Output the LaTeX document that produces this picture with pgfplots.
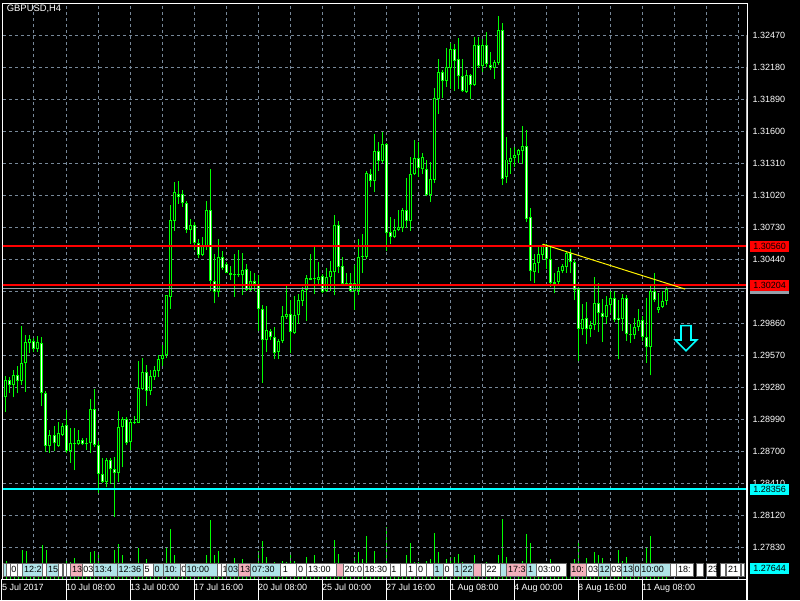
\documentclass[border=0pt]{standalone}
\usepackage{fontspec}
\setmainfont{Liberation Sans}
\usepackage{pgfplots}
\usepackage{pgfplotstable}
\pgfplotsset{compat=1.18}
\definecolor{cgreen}{RGB}{0,255,0}
\definecolor{gridc}{RGB}{119,136,153}
\definecolor{aqua}{RGB}{0,255,255}
\definecolor{lblue}{RGB}{176,228,232}
\definecolor{lpink}{RGB}{244,176,188}
\definecolor{bidgray}{RGB}{150,160,170}
\newcommand\lbl{\fontsize{9}{10}\selectfont}

\pgfplotstableread{
k o h l c v
0 1.29164 1.29200 1.29140 1.29191 600
1 1.29194 1.29382 1.29058 1.29345 1800
2 1.29345 1.29375 1.29230 1.29303 800
3 1.29303 1.29436 1.29189 1.29391 1300
4 1.29391 1.29473 1.29230 1.29339 1300
5 1.29339 1.29834 1.29303 1.29497 2900
6 1.29497 1.29751 1.29239 1.29690 2800
7 1.29683 1.29751 1.29593 1.29714 800
8 1.29696 1.29726 1.29605 1.29629 700
9 1.29629 1.29744 1.29605 1.29690 700
10 1.29678 1.29732 1.29110 1.29230 3400
11 1.29230 1.29246 1.28696 1.28753 2900
12 1.28753 1.28898 1.28687 1.28847 1100
13 1.28847 1.28929 1.28700 1.28772 1300
14 1.28753 1.28965 1.28741 1.28864 1300
15 1.28850 1.28954 1.28838 1.28929 700
16 1.28935 1.29074 1.28682 1.28705 2100
17 1.28705 1.28911 1.28596 1.28772 1700
18 1.28772 1.28911 1.28530 1.28770 2100
19 1.28765 1.28898 1.28757 1.28802 700
20 1.28802 1.28820 1.28757 1.28765 600
21 1.28772 1.28820 1.28712 1.28770 600
22 1.28772 1.29176 1.28687 1.29080 2700
23 1.29080 1.29265 1.28741 1.28760 2800
24 1.28760 1.28790 1.28325 1.28500 2500
25 1.28500 1.28639 1.28415 1.28421 1300
26 1.28421 1.28645 1.28379 1.28621 1400
27 1.28621 1.28639 1.28409 1.28537 1300
28 1.28537 1.28651 1.28107 1.28506 2900
29 1.28506 1.29067 1.28421 1.28923 3500
30 1.28917 1.29008 1.28555 1.28990 2400
31 1.28990 1.29008 1.28760 1.28778 1300
32 1.28785 1.28990 1.28712 1.28971 1500
33 1.28959 1.29019 1.28947 1.28971 600
34 1.28959 1.29520 1.28954 1.29273 3100
35 1.29265 1.29545 1.29255 1.29418 1500
36 1.29418 1.29481 1.29110 1.29248 2000
37 1.29248 1.29436 1.29210 1.29382 1300
38 1.29375 1.29473 1.29345 1.29436 700
39 1.29430 1.29574 1.29375 1.29535 1100
40 1.29535 1.29662 1.29473 1.29572 1000
41 1.29572 1.30118 1.29545 1.30115 3100
42 1.30100 1.30933 1.29991 1.30795 5000
43 1.30789 1.31139 1.30698 1.31049 2400
44 1.31031 1.31145 1.30940 1.31001 1100
45 1.31036 1.31066 1.30915 1.30946 800
46 1.30946 1.30964 1.30674 1.30710 1500
47 1.30710 1.30801 1.30577 1.30747 1300
48 1.30747 1.30776 1.30524 1.30589 1400
49 1.30589 1.30620 1.30451 1.30481 1000
50 1.30481 1.30643 1.30469 1.30564 1000
51 1.30564 1.30964 1.30524 1.30891 2400
52 1.30891 1.31254 1.30154 1.30245 5900
53 1.30245 1.30487 1.30040 1.30143 2400
54 1.30143 1.30620 1.30100 1.30457 2800
55 1.30457 1.30516 1.30342 1.30360 1000
56 1.30396 1.30414 1.30312 1.30317 600
57 1.30317 1.30378 1.30257 1.30299 700
58 1.30299 1.30487 1.30100 1.30294 2100
59 1.30296 1.30524 1.30281 1.30299 1300
60 1.30294 1.30493 1.30118 1.30342 2000
61 1.30348 1.30402 1.30154 1.30165 1300
62 1.30165 1.30330 1.30154 1.30245 1000
63 1.30245 1.30312 1.30154 1.30215 800
64 1.30215 1.30299 1.29792 1.29986 2800
65 1.29986 1.30022 1.29321 1.29708 3800
66 1.29708 1.30016 1.29605 1.29798 2200
67 1.29792 1.29805 1.29708 1.29732 600
68 1.29732 1.29828 1.29533 1.29593 1700
69 1.29605 1.29720 1.29533 1.29701 1000
70 1.29696 1.30016 1.29681 1.29925 1800
71 1.29919 1.30197 1.29898 1.29943 1700
72 1.29943 1.30070 1.29587 1.29780 2700
73 1.29774 1.30106 1.29768 1.29937 1800
74 1.29937 1.30124 1.29853 1.30070 1500
75 1.30064 1.30190 1.30016 1.30165 1000
76 1.30165 1.30299 1.29883 1.30269 2200
77 1.30257 1.30487 1.30251 1.30269 1300
78 1.30263 1.30564 1.30124 1.30262 2400
79 1.30251 1.30414 1.30203 1.30276 1100
80 1.30287 1.30306 1.30137 1.30143 1000
81 1.30149 1.30360 1.30143 1.30281 1100
82 1.30276 1.30426 1.30154 1.30330 1500
83 1.30323 1.30837 1.30113 1.30747 3900
84 1.30747 1.30787 1.30312 1.30372 2500
85 1.30378 1.30462 1.30197 1.30215 1400
86 1.30224 1.30312 1.30203 1.30215 600
87 1.30227 1.30312 1.30143 1.30149 1000
88 1.30149 1.30385 1.29979 1.30227 2200
89 1.30149 1.30620 1.30118 1.30462 2700
90 1.30462 1.30668 1.30317 1.30469 2000
91 1.30462 1.31241 1.30439 1.31223 4300
92 1.31217 1.31254 1.31096 1.31150 800
93 1.31150 1.31574 1.31049 1.31417 2800
94 1.31417 1.31507 1.31241 1.31326 1400
95 1.31326 1.31592 1.31311 1.31483 1500
96 1.31483 1.31489 1.30516 1.30674 5200
97 1.30686 1.30819 1.30577 1.30643 1300
98 1.30643 1.30806 1.30631 1.30704 1000
99 1.30704 1.30891 1.30692 1.30734 1100
100 1.30728 1.30903 1.30686 1.30885 1100
101 1.30885 1.31175 1.30728 1.30789 2400
102 1.30789 1.31368 1.30698 1.31217 3600
103 1.31211 1.31519 1.31205 1.31356 1700
104 1.31362 1.31507 1.31187 1.31265 1700
105 1.31254 1.31404 1.31211 1.31368 1000
106 1.31254 1.31343 1.31009 1.31019 1800
107 1.31019 1.31320 1.30958 1.31163 2000
108 1.31157 1.31996 1.31132 1.31899 4600
109 1.31893 1.32250 1.31755 1.32141 2700
110 1.32141 1.32153 1.31899 1.32056 1400
111 1.32056 1.32352 1.32002 1.32183 2000
112 1.32177 1.32395 1.31984 1.32346 2200
113 1.32346 1.32389 1.31965 1.32237 2200
114 1.32250 1.32443 1.31978 1.32099 2500
115 1.32099 1.32250 1.31954 1.31960 1700
116 1.31954 1.32153 1.31947 1.32105 1100
117 1.32105 1.32117 1.31888 1.32020 1300
118 1.32020 1.32449 1.32008 1.32377 2400
119 1.32377 1.32449 1.32171 1.32189 1500
120 1.32189 1.32431 1.32141 1.32377 1500
121 1.32377 1.32503 1.32183 1.32207 1700
122 1.32201 1.32322 1.32153 1.32177 1000
123 1.32177 1.32244 1.32074 1.32226 1000
124 1.32219 1.32648 1.32201 1.32515 2400
125 1.32515 1.32576 1.31114 1.31169 6000
126 1.31181 1.31544 1.31127 1.31344 2200
127 1.31320 1.31447 1.31217 1.31362 1300
128 1.31362 1.31458 1.31277 1.31386 1000
129 1.31381 1.31440 1.31308 1.31429 700
130 1.31422 1.31646 1.31302 1.31465 1800
131 1.31465 1.31610 1.30776 1.30806 4500
132 1.30819 1.30909 1.30245 1.30330 3600
133 1.30323 1.30487 1.30227 1.30408 1400
134 1.30408 1.30548 1.30317 1.30487 1300
135 1.30481 1.30583 1.30432 1.30565 800
136 1.30571 1.30583 1.30354 1.30444 1300
137 1.30444 1.30548 1.30190 1.30221 2000
138 1.30215 1.30312 1.30131 1.30232 1000
139 1.30233 1.30366 1.30215 1.30335 800
140 1.30330 1.30402 1.30312 1.30378 600
141 1.30366 1.30516 1.30317 1.30498 1100
142 1.30498 1.30529 1.30312 1.30414 1100
143 1.30414 1.30432 1.30070 1.30161 2000
144 1.30172 1.30185 1.29520 1.29810 3600
145 1.29810 1.30033 1.29751 1.29898 1500
146 1.29906 1.30051 1.29672 1.29805 2100
147 1.29805 1.29883 1.29732 1.29841 800
148 1.29841 1.30276 1.29798 1.30040 2700
149 1.30040 1.30221 1.29780 1.29955 2400
150 1.29955 1.30082 1.29690 1.29919 2100
151 1.29919 1.30106 1.29853 1.30022 1400
152 1.30022 1.30149 1.29950 1.30094 1100
153 1.30094 1.30149 1.29871 1.29893 1500
154 1.29913 1.30076 1.29538 1.29893 2900
155 1.29898 1.30124 1.29792 1.30094 1800
156 1.30094 1.30113 1.29701 1.29768 2200
157 1.29768 1.29853 1.29683 1.29751 1000
158 1.29751 1.29913 1.29720 1.29823 1000
159 1.29823 1.29986 1.29792 1.29893 1000
160 1.29893 1.29931 1.29701 1.29737 1300
161 1.29737 1.30088 1.29502 1.29642 3200
162 1.29642 1.30197 1.29389 1.30149 4300
163 1.30149 1.30317 1.30051 1.30070 1400
164 1.29979 1.30137 1.29950 1.30009 1000
165 1.30009 1.30154 1.29997 1.30064 800
166 1.30064 1.30185 1.30022 1.30172 800
}\candles

\begin{document}
\begin{tikzpicture}[x=1pt,y=1pt]
\fill[black] (0,0) rectangle (800,600);
% tick volumes, drawn in their own overlaid axis
\begin{axis}[
  at={(3pt,21pt)}, anchor=south west,
  scale only axis, width=744pt, height=576pt,
  xmin=0.25, xmax=186.25, ymin=0, ymax=57600,
  hide axis,
]
\addplot[cgreen, line width=1pt, ycomb] table[x=k, y=v] {\candles};
\end{axis}
\begin{axis}[
  at={(3pt,21pt)}, anchor=south west,
  scale only axis, width=744pt, height=576pt,
  xmin=0.25, xmax=186.25, ymin=1.27543, ymax=1.327598,
  axis line style={white, line width=1pt},
  xtick={8,16,...,184},
  ytick={1.27830,1.28120,1.28410,1.28700,1.28990,1.29280,1.29570,1.29860,1.30150,1.30440,1.30730,1.31020,1.31310,1.31600,1.31890,1.32180,1.32470},
  xticklabels={}, yticklabels={},
  major tick length=0pt,
  grid=major,
  major grid style={gridc, line width=1pt, dash pattern=on 3pt off 3pt},
  clip mode=individual,
]
% wicks
\addplot[cgreen, line width=1pt, quiver={u=0, v=\thisrow{h}-\thisrow{l}}]
  table[x=k, y=l] {\candles};
% bodies (outline)
\addplot[cgreen, line width=3pt, quiver={u=0, v={max(abs(\thisrow{c}-\thisrow{o}),0.00009)}}]
  table[x=k, y expr={min(\thisrow{o},\thisrow{c})}] {\candles};
% bear bodies: white inside
\addplot[white, line width=1pt, quiver={u=0, v={abs(\thisrow{c}-\thisrow{o})-0.000181}},
  x filter/.expression={(\thisrow{o}-\thisrow{c}>0.00019) ? x : nan}]
  table[x=k, y expr={\thisrow{c}+0.0000906}] {\candles};
% bull bodies: black inside
\addplot[black, line width=1pt, quiver={u=0, v={abs(\thisrow{c}-\thisrow{o})-0.000181}},
  x filter/.expression={(\thisrow{c}-\thisrow{o}>0.00019) ? x : nan}]
  table[x=k, y expr={\thisrow{o}+0.0000906}] {\candles};
% horizontal lines
\addplot[red, line width=2pt] coordinates {(0,1.30560) (187,1.30560)};
\addplot[red, line width=2pt] coordinates {(0,1.30204) (187,1.30204)};
\addplot[bidgray, line width=1pt] coordinates {(0,1.30172) (187,1.30172)};
\addplot[aqua, line width=2pt] coordinates {(0,1.28356) (187,1.28356)};
% trend line
\addplot[yellow, line width=1pt] coordinates {(135.2,1.30577) (170.8,1.30170)};
% right price scale
\pgfplotsinvokeforeach{1.27830,1.28120,1.28410,1.28700,1.28990,1.29280,1.29570,1.29860,1.30150,1.30440,1.30730,1.31020,1.31310,1.31600,1.31890,1.32180,1.32470}{
  \draw[white, line width=1pt] (axis cs:186.25,#1) -- ++(4pt,0);
}
\pgfplotsinvokeforeach{1.27830,1.28120,1.28410,1.28700,1.28990,1.29280,1.29570,1.29860,1.30440,1.30730,1.31020,1.31310,1.31600,1.31890,1.32180,1.32470}{
  \node[anchor=west, inner sep=0pt, text=white, font=\lbl] at (axis cs:186.25,#1) [xshift=5.3pt] {#1};
}
\node[anchor=west, inner sep=0pt, fill=bidgray, minimum width=39pt, minimum height=11pt] at (axis cs:186.25,1.30172) [xshift=3pt] {};
\node[anchor=west, inner sep=0pt, fill=red, minimum width=39pt, minimum height=11pt, text=black, font=\lbl] at (axis cs:186.25,1.30560) [xshift=3pt] {1.30560};
\node[anchor=west, inner sep=0pt, fill=red, minimum width=39pt, minimum height=11pt, text=black, font=\lbl] at (axis cs:186.25,1.30204) [xshift=3pt] {1.30204};
\node[anchor=west, inner sep=0pt, fill=aqua, minimum width=39pt, minimum height=11pt, text=black, font=\lbl] at (axis cs:186.25,1.28356) [xshift=3pt] {1.28356};
\node[anchor=west, inner sep=0pt, fill=aqua, minimum width=39pt, minimum height=11pt, text=black, font=\lbl] at (axis cs:186.25,1.27644) [xshift=3pt] {1.27644};
% time scale
\pgfplotsinvokeforeach{0,16,32,48,64,80,96,112,128,144,160}{
  \draw[white, line width=1pt] (axis cs:#1,1.27543) -- ++(0,-4pt);
}
\node[anchor=north west, inner sep=0pt, text=white, font=\lbl] at (axis cs:0,1.27543) [yshift=-5pt] {5 Jul 2017};
\node[anchor=north west, inner sep=0pt, text=white, font=\lbl] at (axis cs:16,1.27543) [yshift=-5pt] {10 Jul 08:00};
\node[anchor=north west, inner sep=0pt, text=white, font=\lbl] at (axis cs:32,1.27543) [yshift=-5pt] {13 Jul 00:00};
\node[anchor=north west, inner sep=0pt, text=white, font=\lbl] at (axis cs:48,1.27543) [yshift=-5pt] {17 Jul 16:00};
\node[anchor=north west, inner sep=0pt, text=white, font=\lbl] at (axis cs:64,1.27543) [yshift=-5pt] {20 Jul 08:00};
\node[anchor=north west, inner sep=0pt, text=white, font=\lbl] at (axis cs:80,1.27543) [yshift=-5pt] {25 Jul 00:00};
\node[anchor=north west, inner sep=0pt, text=white, font=\lbl] at (axis cs:96,1.27543) [yshift=-5pt] {27 Jul 16:00};
\node[anchor=north west, inner sep=0pt, text=white, font=\lbl] at (axis cs:112,1.27543) [yshift=-5pt] {1 Aug 08:00};
\node[anchor=north west, inner sep=0pt, text=white, font=\lbl] at (axis cs:128,1.27543) [yshift=-5pt] {4 Aug 00:00};
\node[anchor=north west, inner sep=0pt, text=white, font=\lbl] at (axis cs:144,1.27543) [yshift=-5pt] {8 Aug 16:00};
\node[anchor=north west, inner sep=0pt, text=white, font=\lbl] at (axis cs:160,1.27543) [yshift=-5pt] {11 Aug 08:00};
\end{axis}
% title
\node[anchor=base west, inner sep=0pt, text=white, font=\fontsize{9.4}{10}\selectfont] at (6.7,588) {GBPUSD,H4};
% sell arrow
\draw[aqua, line width=1.6pt, line join=miter] (681,274.3) -- (691,274.3) -- (691,260) -- (696.7,260) -- (686,249.3) -- (675.3,260) -- (681,260) -- cycle;
% object label strip
\def\bx#1#2#3#4{\filldraw[fill=#3, draw=black!60, line width=0.6pt] (#1,24) rectangle (#2,37);
  \node[anchor=west, inner sep=0pt, font=\lbl, text=black] at (#1+1.2,30.5) {#4};}
\bx{3}{6}{lblue}{}
\bx{6}{10}{white}{}
\bx{10}{17}{white}{0}
\bx{17}{22.7}{white}{}
\bx{22.7}{42.7}{lblue}{12:2}
\bx{42.7}{46.7}{white}{}
\bx{46.7}{58}{lblue}{15}
\bx{58}{62}{white}{}
\bx{63.3}{66.7}{white}{}
\bx{66.7}{70.7}{white}{}
\bx{70.7}{82}{lpink}{13}
\bx{82}{93.3}{white}{03}
\bx{93.3}{117.3}{lblue}{13:4}
\bx{117.3}{143.3}{lblue}{12:36}
\bx{143.3}{153.3}{white}{5}
\bx{153.3}{163.3}{lblue}{0}
\bx{163.3}{180}{lblue}{10:}
\bx{180}{185.3}{white}{0}
\bx{185.3}{217.3}{lblue}{10:00}
\bx{217.3}{221.3}{white}{}
\bx{221.3}{226.7}{white}{1}
\bx{226.7}{238.7}{lblue}{03}
\bx{238.7}{250.7}{lpink}{13}
\bx{250.7}{280}{lblue}{07:30}
\bx{280}{296.7}{white}{\,1}
\bx{296.7}{306.7}{white}{0}
\bx{306.7}{336.7}{white}{13:00}
\bx{336.7}{343.3}{lpink}{}
\bx{343.3}{363.3}{white}{20:0}
\bx{363.3}{390}{white}{18:30}
\bx{390}{400}{white}{1}
\bx{400}{406.7}{white}{}
\bx{406.7}{416.7}{white}{1}
\bx{416.7}{426.7}{white}{0}
\bx{426.7}{433.3}{white}{}
\bx{433.3}{443.3}{lblue}{1}
\bx{443.3}{453.3}{white}{0}
\bx{453.3}{461.3}{lblue}{1}
\bx{461.3}{473.3}{lblue}{22}
\bx{473.3}{481.7}{lpink}{}
\bx{481.7}{485.3}{white}{}
\bx{485.3}{500}{white}{22}
\bx{500}{506.7}{lblue}{}
\bx{506.7}{526.7}{lpink}{17:3}
\bx{526.7}{536.7}{lblue}{1}
\bx{536.7}{566.7}{white}{03:00}
\bx{570}{586.7}{lpink}{10:}
\bx{586.7}{598.3}{white}{03}
\bx{598.3}{610}{lblue}{12}
\bx{610}{621.7}{white}{03}
\bx{621.7}{633.3}{lblue}{13}
\bx{633.3}{640}{lblue}{0}
\bx{640}{670}{lblue}{10:00}
\bx{670}{676.7}{white}{}
\bx{676.7}{693.3}{white}{18:}
\bx{696.7}{703.3}{white}{}
\bx{706.7}{716.7}{white}{23}
\bx{720}{725}{white}{}
\bx{726.7}{740}{white}{21}
\bx{741}{744}{white}{}
\pgfresetboundingbox
\useasboundingbox (0,0) rectangle (800,600);
\end{tikzpicture}
\end{document}
